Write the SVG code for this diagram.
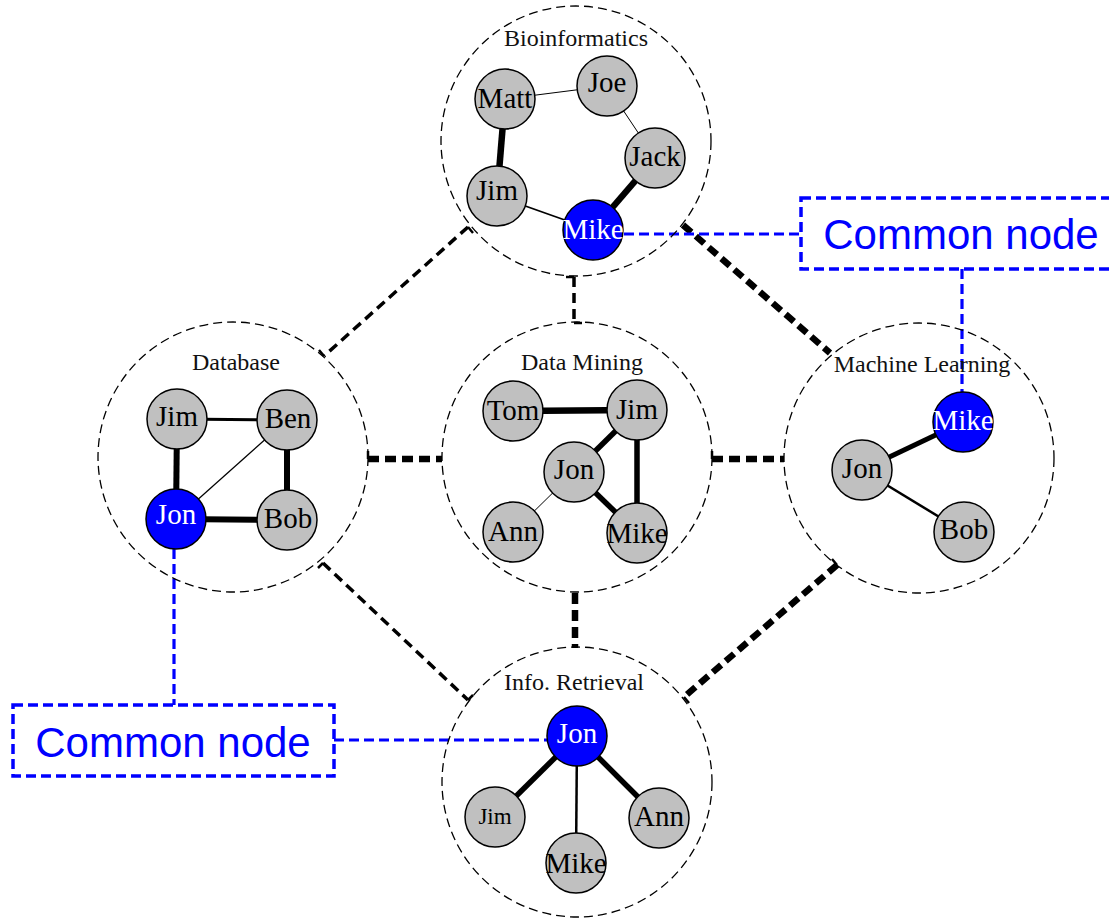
<svg xmlns="http://www.w3.org/2000/svg" width="1109" height="918" viewBox="0 0 1109 918">
<style>
.cluster{fill:none;stroke:#000;stroke-width:1.3;stroke-dasharray:9 5}
.clabel{font-family:"Liberation Serif","Times New Roman",serif;font-size:24px;fill:#111;text-anchor:middle}
.n{fill:#c0c0c0;stroke:#000;stroke-width:1.5}
.b{fill:#0000ff;stroke:#000;stroke-width:1.5}
.t{font-family:"Liberation Serif","Times New Roman",serif;font-size:29px;fill:#000;text-anchor:middle}
.tw{font-family:"Liberation Serif","Times New Roman",serif;font-size:29px;fill:#fff;text-anchor:middle}
.e{stroke:#000;fill:none}
.lt{stroke:#000;stroke-width:3.5;stroke-dasharray:10 6;fill:none}
.lk{stroke:#000;stroke-width:6.5;stroke-dasharray:11 6;fill:none}
.tick{stroke:#000;stroke-width:2.5}
.bl{stroke:#0000ff;stroke-width:3.2;stroke-dasharray:10 5;fill:none}
.box{fill:#fff;stroke:#0000ff;stroke-width:3.5;stroke-dasharray:10 5}
.ct{font-family:"Liberation Sans",Arial,sans-serif;font-size:42px;fill:#0000ff;text-anchor:middle}
</style>
<rect width="1109" height="918" fill="#fff"/>

<g id="connectors">
  <!-- cluster links -->
  <line class="lt" x1="468" y1="227" x2="324" y2="356"/>
  <line class="lt" x1="574" y1="277" x2="574" y2="323"/>
  <line class="lk" x1="683" y1="225" x2="830" y2="353"/>
  <line class="lk" x1="368" y1="459" x2="442" y2="459"/>
  <line class="lk" x1="712" y1="459" x2="784" y2="459"/>
  <line class="lt" x1="323" y1="563" x2="468" y2="700"/>
  <line class="lk" x1="575" y1="593" x2="575" y2="648"/>
  <line class="lk" x1="837" y1="565" x2="684" y2="697"/>
  <!-- end ticks -->
  <line class="tick" x1="468" y1="227" x2="473" y2="233"/>
  <line class="tick" x1="324" y1="356" x2="319" y2="350"/>
  <line class="tick" x1="574" y1="277" x2="566" y2="277"/>
  <line class="tick" x1="574" y1="323" x2="582" y2="323"/>
  <line class="tick" x1="368" y1="459" x2="368" y2="451"/>
  <line class="tick" x1="712" y1="459" x2="712" y2="451"/>
  <line class="tick" x1="323" y1="563" x2="318" y2="568"/>
  <line class="tick" x1="468" y1="700" x2="473" y2="695"/>
  <line class="tick" x1="837" y1="565" x2="832" y2="559"/>
  <line class="tick" x1="684" y1="697" x2="689" y2="703"/>
  <!-- common node links -->
  <line class="bl" x1="624" y1="234" x2="801" y2="234"/>
  <line class="bl" x1="962" y1="269" x2="962" y2="392"/>
  <line class="bl" x1="174" y1="549" x2="174" y2="705"/>
  <line class="bl" x1="334" y1="740" x2="547" y2="740"/>
</g>

<g id="bioinformatics">
  <circle class="cluster" cx="576" cy="141" r="135"/>
  <text class="clabel" x="576" y="46">Bioinformatics</text>
  <line class="e" stroke-width="1" x1="505" y1="99" x2="607" y2="86"/>
  <line class="e" stroke-width="1" x1="607" y1="86" x2="655" y2="158"/>
  <line class="e" stroke-width="6.5" x1="505" y1="99" x2="497" y2="196"/>
  <line class="e" stroke-width="1.5" x1="497" y1="196" x2="593" y2="230"/>
  <line class="e" stroke-width="6.5" x1="593" y1="230" x2="655" y2="158"/>
  <g id="bio-matt"><circle class="n" cx="505" cy="99" r="30"/><text class="t" x="505" y="108">Matt</text></g>
  <g id="bio-joe"><circle class="n" cx="607" cy="86" r="30"/><text class="t" x="607" y="92">Joe</text></g>
  <g id="bio-jack"><circle class="n" cx="655" cy="158" r="30"/><text class="t" x="655" y="166">Jack</text></g>
  <g id="bio-jim"><circle class="n" cx="497" cy="196" r="30"/><text class="t" x="497" y="200">Jim</text></g>
  <g id="bio-mike"><circle class="b" cx="593" cy="230" r="30"/><text class="tw" x="593" y="239">Mike</text></g>
</g>

<g id="database">
  <circle class="cluster" cx="233" cy="457" r="135"/>
  <text class="clabel" x="236" y="370">Database</text>
  <line class="e" stroke-width="3" x1="177" y1="419" x2="287" y2="420"/>
  <line class="e" stroke-width="6" x1="177" y1="419" x2="176" y2="519"/>
  <line class="e" stroke-width="6" x1="287" y1="420" x2="287" y2="520"/>
  <line class="e" stroke-width="6" x1="176" y1="519" x2="287" y2="520"/>
  <line class="e" stroke-width="1.3" x1="176" y1="519" x2="287" y2="420"/>
  <g id="db-jim"><circle class="n" cx="177" cy="419" r="30"/><text class="t" x="177" y="426">Jim</text></g>
  <g id="db-ben"><circle class="n" cx="287" cy="420" r="30"/><text class="t" x="288" y="428">Ben</text></g>
  <g id="db-jon"><circle class="b" cx="176" cy="519" r="30"/><text class="tw" x="176" y="524">Jon</text></g>
  <g id="db-bob"><circle class="n" cx="287" cy="520" r="30"/><text class="t" x="288" y="528">Bob</text></g>
</g>

<g id="datamining">
  <circle class="cluster" cx="577" cy="457" r="135"/>
  <text class="clabel" x="582" y="370">Data Mining</text>
  <line class="e" stroke-width="6.5" x1="513" y1="411" x2="637" y2="410"/>
  <line class="e" stroke-width="5.5" x1="637" y1="410" x2="574" y2="472"/>
  <line class="e" stroke-width="5.5" x1="637" y1="410" x2="637" y2="533"/>
  <line class="e" stroke-width="5.5" x1="574" y1="472" x2="637" y2="533"/>
  <line class="e" stroke-width="1" x1="574" y1="472" x2="513" y2="532"/>
  <g id="dm-tom"><circle class="n" cx="513" cy="411" r="30"/><text class="t" x="513" y="420">Tom</text></g>
  <g id="dm-jim"><circle class="n" cx="637" cy="410" r="30"/><text class="t" x="637" y="419">Jim</text></g>
  <g id="dm-jon"><circle class="n" cx="574" cy="472" r="30"/><text class="t" x="574" y="479">Jon</text></g>
  <g id="dm-ann"><circle class="n" cx="513" cy="532" r="30"/><text class="t" x="513" y="541">Ann</text></g>
  <g id="dm-mike"><circle class="n" cx="637" cy="533" r="30"/><text class="t" x="637" y="543">Mike</text></g>
</g>

<g id="machinelearning">
  <circle class="cluster" cx="919" cy="458" r="135"/>
  <text class="clabel" x="922" y="372">Machine Learning</text>
  <line class="e" stroke-width="5" x1="862" y1="470" x2="963" y2="422"/>
  <line class="e" stroke-width="2.5" x1="862" y1="470" x2="964" y2="532"/>
  <g id="ml-mike"><circle class="b" cx="963" cy="422" r="30"/><text class="tw" x="963" y="430">Mike</text></g>
  <g id="ml-jon"><circle class="n" cx="862" cy="470" r="30"/><text class="t" x="862" y="478">Jon</text></g>
  <g id="ml-bob"><circle class="n" cx="964" cy="532" r="30"/><text class="t" x="964" y="539">Bob</text></g>
</g>

<g id="inforetrieval">
  <circle class="cluster" cx="577" cy="782" r="135"/>
  <text class="clabel" x="574" y="690">Info. Retrieval</text>
  <line class="e" stroke-width="5.5" x1="577" y1="736" x2="495" y2="817"/>
  <line class="e" stroke-width="2.5" x1="577" y1="736" x2="576" y2="863"/>
  <line class="e" stroke-width="5.5" x1="577" y1="736" x2="659" y2="818"/>
  <g id="ir-jon"><circle class="b" cx="577" cy="736" r="30"/><text class="tw" x="577" y="743">Jon</text></g>
  <g id="ir-jim"><circle class="n" cx="495" cy="817" r="30"/><text class="t" x="495" y="824" style="font-size:23px">Jim</text></g>
  <g id="ir-mike"><circle class="n" cx="576" cy="863" r="30"/><text class="t" x="576" y="873">Mike</text></g>
  <g id="ir-ann"><circle class="n" cx="659" cy="818" r="30"/><text class="t" x="659" y="826">Ann</text></g>
</g>

<g id="common-node-top">
  <rect class="box" x="801" y="198" width="321" height="71"/>
  <text class="ct" x="961" y="249">Common node</text>
</g>
<g id="common-node-bottom">
  <rect class="box" x="13" y="705" width="321" height="71"/>
  <text class="ct" x="173" y="757">Common node</text>
</g>
</svg>
